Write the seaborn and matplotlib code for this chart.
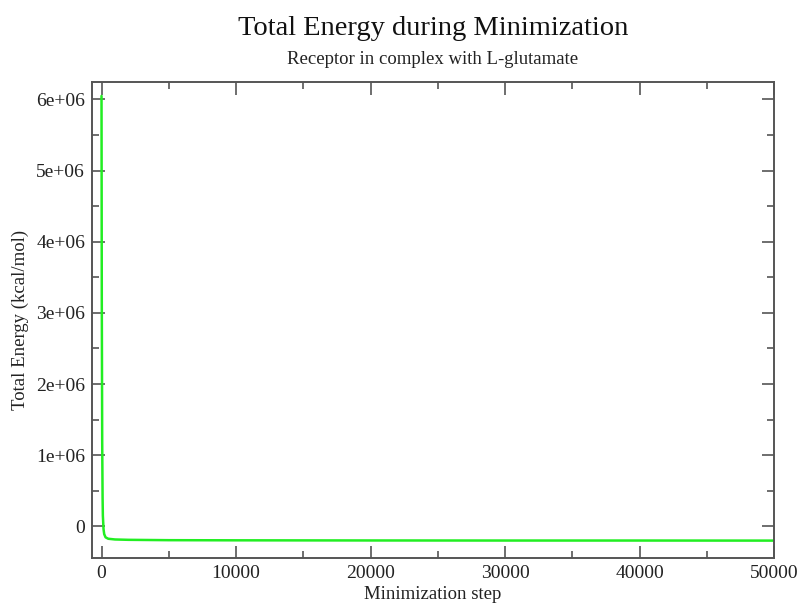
import matplotlib
matplotlib.use("Agg")
import matplotlib.pyplot as plt
import seaborn as sns
import pandas as pd
from matplotlib.ticker import MultipleLocator, FuncFormatter

steps = [0, 20, 50, 80, 100, 150, 200, 300, 500, 1000, 2000, 5000, 10000, 20000, 30000, 40000, 50000]
energy = [6.05e6, 3.2e6, 1.2e6, 4.0e5, 1.5e5, -4e4, -1.1e5, -1.55e5, -1.75e5, -1.85e5, -1.9e5,
          -1.95e5, -1.97e5, -1.99e5, -2.0e5, -2.0e5, -2.01e5]

title = "Total Energy during Minimization"
subtitle = "Receptor in complex with L-glutamate"
xlabel = "Minimization step"
ylabel = "Total Energy (kcal/mol)"

df = pd.DataFrame({"step": steps, "energy": energy})

sns.set_style("ticks")
plt.rcParams["font.family"] = ["Liberation Serif", "DejaVu Serif"]

fig = plt.figure(figsize=(7.99, 6.03), dpi=100)
ax = fig.add_axes([0.1151, 0.0741, 0.969 - 0.1151, 0.8645 - 0.0741])

sns.lineplot(data=df, x="step", y="energy", ax=ax, color="#22ee22", linewidth=1.8)

ax.set_xlim(-710, 50000)
ax.set_ylim(-4.5e5, 6.25e6)

ax.xaxis.set_major_locator(MultipleLocator(10000))
ax.xaxis.set_minor_locator(MultipleLocator(5000))
ax.yaxis.set_major_locator(MultipleLocator(1e6))
ax.yaxis.set_minor_locator(MultipleLocator(5e5))

def yfmt(v, pos):
    if abs(v) < 1:
        return "0"
    return "%de+06" % round(v / 1e6)

ax.yaxis.set_major_formatter(FuncFormatter(yfmt))
ax.xaxis.set_major_formatter(FuncFormatter(lambda v, p: "%d" % v))

edge = "#555555"
for s in ax.spines.values():
    s.set_color(edge)
    s.set_linewidth(1.4)
    s.set_visible(True)

ax.tick_params(which="both", direction="in", top=True, right=True, color=edge, width=1.2,
               labelsize=14, labelcolor="#222222", pad=5)
ax.tick_params(which="major", length=9)
ax.tick_params(which="minor", length=5)

ax.set_xlabel(xlabel, fontsize=13.5, color="#222222", va="center")
ax.xaxis.set_label_coords(0.5, -0.075)
ax.set_ylabel(ylabel, fontsize=13.5, color="#222222", va="center")
ax.yaxis.set_label_coords(-0.105, 0.5)

fig.text(0.542, 0.953, title, ha="center", va="center", fontsize=20.5, color="#111111")
fig.text(0.542, 0.901, subtitle, ha="center", va="center", fontsize=13.5, color="#222222")

fig.savefig("out.png", dpi=100)
